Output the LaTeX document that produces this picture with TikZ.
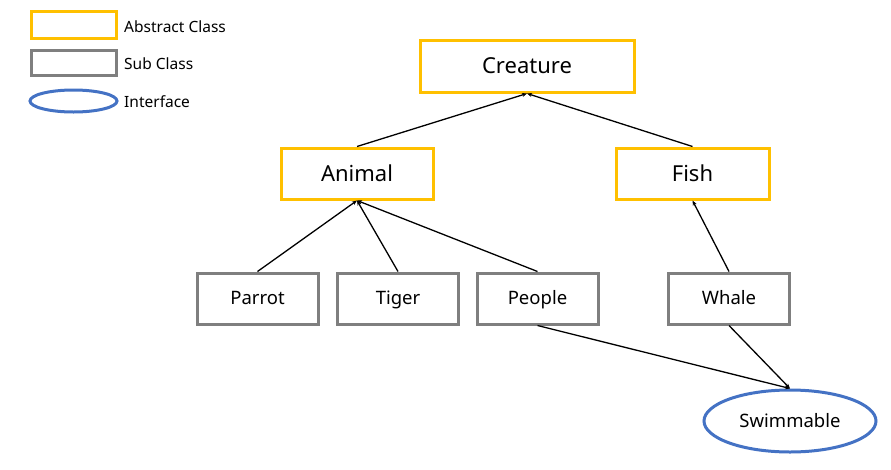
\documentclass[tikz,border=0pt]{standalone}
\usepackage{fontspec}
\setmainfont{Noto Sans}
\usetikzlibrary{shapes.geometric,arrows.meta}
\definecolor{absyellow}{HTML}{FFC000}
\definecolor{subgray}{HTML}{7F7F7F}
\definecolor{ifblue}{HTML}{4472C4}
\tikzstyle{abstractc}=[draw=absyellow, line width=3pt, fill=white,
  minimum height=51pt, text centered, text height=18pt, text depth=3pt,
  font=\fontsize{22}{25}\selectfont]
\tikzstyle{subc}=[draw=subgray, line width=3pt, fill=white,
  minimum width=121pt, minimum height=51pt, text centered,
  text height=15pt, text depth=3pt, font=\fontsize{18.5}{21}\selectfont]
\tikzstyle{iface}=[ellipse, draw=ifblue, line width=3pt, fill=white,
  minimum width=172pt, minimum height=62pt, inner sep=0pt,
  font=\fontsize{18.5}{21}\selectfont]
\tikzstyle{legtext}=[right, inner sep=0pt, font=\fontsize{15.5}{18}\selectfont]
\tikzstyle{inherit}=[-{Stealth[length=5pt,width=4pt]}, line width=1.3pt]

\begin{document}
\begin{tikzpicture}[x=1pt, y=-1pt]
  \useasboundingbox (0,0) rectangle (891,469);
  % legend
  \node (lgabs) [abstractc, minimum width=85pt, minimum height=20pt] at (73.5,25) {};
  \node (lgsub) [subc, minimum width=85pt, minimum height=20pt] at (73.5,63) {};
  \node (lgif) [iface, minimum width=87pt, minimum height=22pt] at (73.5,101) {};
  \node (tabs) [legtext] at (124,26.5) {Abstract Class};
  \node (tsub) [legtext] at (124,63.5) {Sub Class};
  \node (tif) [legtext] at (124,101.5) {Interface};

  % classes
  \node (creature) [abstractc, minimum width=214pt, minimum height=52pt] at (527,66) {Creature};
  \node (animal) [abstractc, minimum width=152pt] at (357,173.5) {Animal};
  \node (fish) [abstractc, minimum width=153pt] at (692.5,173.5) {Fish};
  \node (parrot) [subc] at (257.5,298.5) {Parrot};
  \node (tiger) [subc] at (398,298.5) {Tiger};
  \node (people) [subc] at (537.5,298.5) {People};
  \node (whale) [subc] at (729,298.5) {Whale};
  \node (swim) [iface] at (790,421) {Swimmable};

  % inheritance
  \draw [inherit] (animal.north) -- (creature.south);
  \draw [inherit] (fish.north) -- (creature.south);
  \draw [inherit] (parrot.north) -- (animal.south);
  \draw [inherit] (tiger.north) -- (animal.south);
  \draw [inherit] (people.north) -- (animal.south);
  \draw [inherit] (whale.north) -- (fish.south);
  \draw [inherit] (people.south) -- (swim.north);
  \draw [inherit] (whale.south) -- (swim.north);
\end{tikzpicture}
\end{document}
